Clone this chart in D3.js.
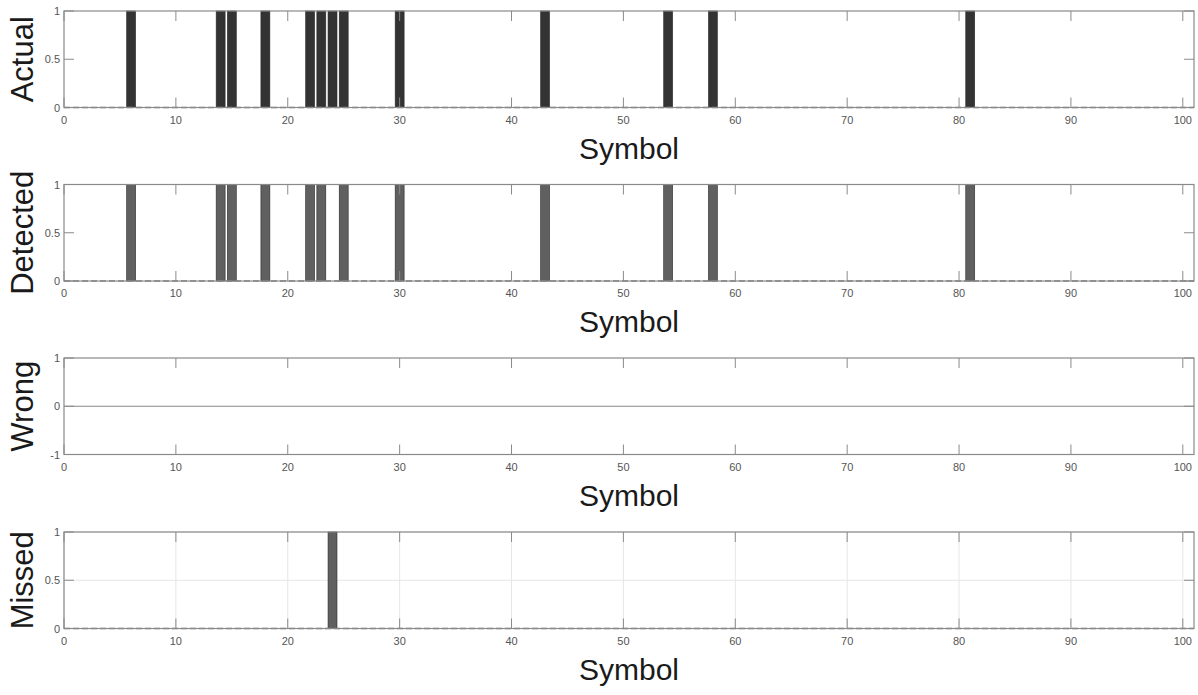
<!DOCTYPE html>
<html>
<head>
<meta charset="utf-8">
<script src="https://cdn.jsdelivr.net/npm/d3@7"></script>
<style>
  body { margin: 0; background: #fff; }
  svg { font-family: "Liberation Sans", Arial, sans-serif; }
</style>
</head>
<body>
<svg id="chart" width="1198" height="695"></svg>
<script>
// Symbols whose value is 1 in each panel (all others are 0)
const actualOnes = [6, 14, 15, 18, 22, 23, 24, 25, 30, 43, 54, 58, 81];
const detectedOnes = [6, 14, 15, 18, 22, 23, 25, 30, 43, 54, 58, 81];
const wrongOnes = [];
const missedOnes = [24];

const xTicks = [0, 10, 20, 30, 40, 50, 60, 70, 80, 90, 100];
const yTicksUnit = [0, 0.5, 1];
const yTicksSigned = [-1, 0, 1];

const panels = [
    { label: "Actual", ones: actualOnes, yDomain: [0, 1], yTicks: yTicksUnit, color: "#333333", grid: false, zeroLine: "dash" },
    { label: "Detected", ones: detectedOnes, yDomain: [0, 1], yTicks: yTicksUnit, color: "#606060", grid: false, zeroLine: "dash" },
    { label: "Wrong", ones: wrongOnes, yDomain: [-1, 1], yTicks: yTicksSigned, color: "#606060", grid: false, zeroLine: "solid" },
    { label: "Missed", ones: missedOnes, yDomain: [0, 1], yTicks: yTicksUnit, color: "#606060", grid: true, zeroLine: "dash" }
];

const svg = d3.select("#chart");
const left = 64, right = 1194;
const tops = [11, 184.5, 358, 532];
const h = 96.5;
const tickLen = 10;

const x = d3.scaleLinear().domain([0, 101]).range([left, right]);
const barW = x(0.8) - x(0);

panels.forEach((p, i) => {
    const top = tops[i], bottom = top + h;
    const y = d3.scaleLinear().domain(p.yDomain).range([bottom, top]);
    const g = svg.append("g");

    // grid (only last panel)
    if (p.grid) {
        g.selectAll(".gx").data(xTicks).enter().append("line")
            .attr("x1", d => x(d)).attr("x2", d => x(d))
            .attr("y1", top).attr("y2", bottom)
            .attr("stroke", "#e6e6e6").attr("stroke-width", 1);
        g.selectAll(".gy").data(p.yTicks).enter().append("line")
            .attr("x1", left).attr("x2", right)
            .attr("y1", d => y(d)).attr("y2", d => y(d))
            .attr("stroke", "#e6e6e6").attr("stroke-width", 1);
    }

    // bars
    g.selectAll(".bar").data(p.ones).enter().append("rect")
        .attr("x", d => x(d) - barW / 2)
        .attr("width", barW)
        .attr("y", y(1))
        .attr("height", y(0) - y(1))
        .attr("fill", p.color)
        .attr("stroke", "#2a2a2a")
        .attr("stroke-width", 0.6);

    // zero line
    g.append("line")
        .attr("x1", left).attr("x2", right)
        .attr("y1", y(0)).attr("y2", y(0))
        .attr("stroke", p.zeroLine === "dash" ? "#777" : "#888")
        .attr("stroke-width", p.zeroLine === "dash" ? 1.3 : 1)
        .attr("stroke-dasharray", p.zeroLine === "dash" ? "6,3" : null);

    // ticks (inner, on all four sides)
    xTicks.forEach(t => {
        g.append("line").attr("x1", x(t)).attr("x2", x(t))
            .attr("y1", bottom).attr("y2", bottom - tickLen)
            .attr("stroke", "#8a8a8a");
        g.append("line").attr("x1", x(t)).attr("x2", x(t))
            .attr("y1", top).attr("y2", top + tickLen)
            .attr("stroke", "#8a8a8a");
    });
    p.yTicks.forEach(t => {
        g.append("line").attr("x1", left).attr("x2", left + tickLen)
            .attr("y1", y(t)).attr("y2", y(t)).attr("stroke", "#8a8a8a");
        g.append("line").attr("x1", right).attr("x2", right - tickLen)
            .attr("y1", y(t)).attr("y2", y(t)).attr("stroke", "#8a8a8a");
    });

    // box
    g.append("rect")
        .attr("x", left).attr("y", top)
        .attr("width", right - left).attr("height", h)
        .attr("fill", "none").attr("stroke", "#8a8a8a").attr("stroke-width", 1.2);

    // tick labels
    g.selectAll(".xl").data(xTicks).enter().append("text")
        .attr("x", d => x(d)).attr("y", bottom + 16)
        .attr("text-anchor", "middle")
        .attr("font-size", 11).attr("fill", "#555")
        .text(d => d);
    g.selectAll(".yl").data(p.yTicks).enter().append("text")
        .attr("x", left - 4).attr("y", d => y(d) + 4)
        .attr("text-anchor", "end")
        .attr("font-size", 11).attr("fill", "#555")
        .text(d => d);

    // axis labels
    g.append("text")
        .attr("x", (left + right) / 2).attr("y", bottom + 51)
        .attr("text-anchor", "middle")
        .attr("font-size", 30).attr("fill", "#1a1a1a")
        .text("Symbol");
    g.append("text")
        .attr("transform", `translate(33,${(top + bottom) / 2}) rotate(-90)`)
        .attr("text-anchor", "middle")
        .attr("font-size", 31).attr("fill", "#1a1a1a")
        .text(p.label);
});
</script>
</body>
</html>
